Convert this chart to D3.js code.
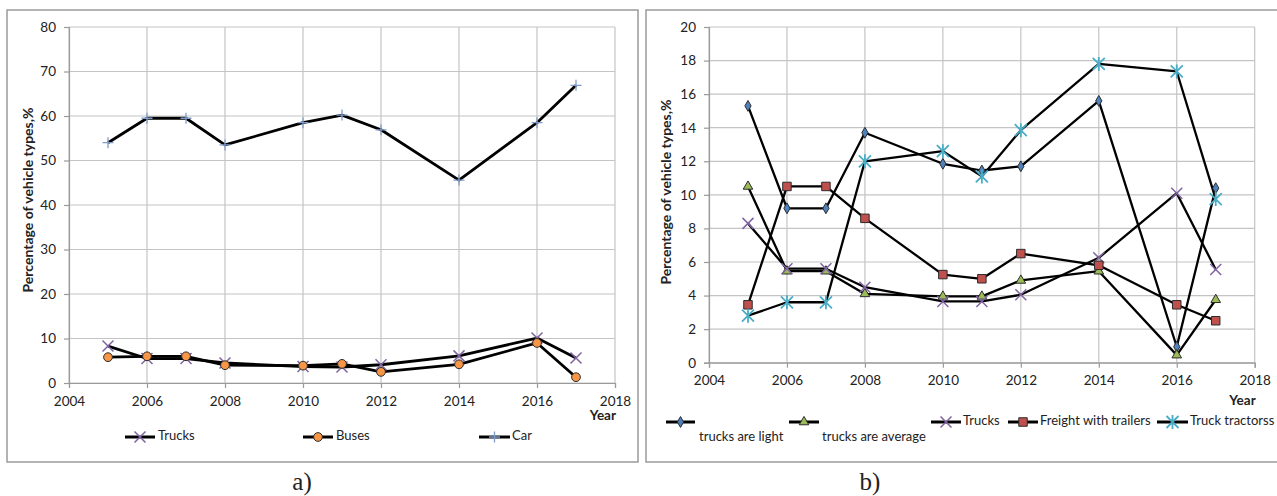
<!DOCTYPE html>
<html><head><meta charset="utf-8">
<script src="https://cdn.jsdelivr.net/npm/d3@7"></script>
<style>body{margin:0;background:#fff}svg{display:block}text{font-family:Lato,"Open Sans",sans-serif;fill:#222}</style>
</head><body><svg id="c" width="1277" height="496"></svg>
<script>
// ---- data ----
const years = [2005, 2006, 2007, 2008, 2010, 2011, 2012, 2014, 2016, 2017];
const xTicks = [2004, 2006, 2008, 2010, 2012, 2014, 2016, 2018];
// panel a
const trucksA = [8.3, 5.5, 5.5, 4.5, 3.7, 3.6, 4.1, 6.1, 10.1, 5.6];
const busesA  = [5.8, 6.0, 6.0, 4.0, 3.9, 4.3, 2.5, 4.2, 9.0, 1.3];
const carA    = [54.0, 59.5, 59.5, 53.5, 58.5, 60.2, 56.9, 45.6, 58.5, 66.9];
const yTicksA = [0, 10, 20, 30, 40, 50, 60, 70, 80];
// panel b
const lightB   = [15.3, 9.2, 9.2, 13.7, 11.85, 11.45, 11.7, 15.6, 0.95, 10.4];
const averageB = [10.5, 5.45, 5.45, 4.1, 3.95, 3.95, 4.9, 5.45, 0.45, 3.75];
const trucksB  = [8.3, 5.6, 5.6, 4.5, 3.65, 3.65, 4.05, 6.25, 10.1, 5.55];
const freightB = [3.45, 10.5, 10.5, 8.6, 5.25, 5.0, 6.5, 5.8, 3.45, 2.5];
const tractorB = [2.8, 3.6, 3.6, 12.0, 12.6, 11.1, 13.85, 17.8, 17.35, 9.75];
const yTicksB = [0, 2, 4, 6, 8, 10, 12, 14, 16, 18, 20];

const svg = d3.select("#c");

// marker painters
function marker(g, type, x, y, color) {
  const dark = "#2b2b2b";
  if (type === "plus") {
    const s = 5.5;
    g.append("path").attr("d", `M${x-s},${y}H${x+s}M${x},${y-s}V${y+s}`)
      .attr("stroke", color).attr("stroke-width", 1.3).attr("fill", "none");
  } else if (type === "x") {
    const s = 5.5;
    g.append("path").attr("d", `M${x-s},${y-s}L${x+s},${y+s}M${x-s},${y+s}L${x+s},${y-s}`)
      .attr("stroke", color).attr("stroke-width", 1.5).attr("fill", "none");
  } else if (type === "star") {
    const s = 6;
    g.append("path").attr("d", `M${x-s},${y-s}L${x+s},${y+s}M${x-s},${y+s}L${x+s},${y-s}M${x},${y-s-1}V${y+s+1}`)
      .attr("stroke", color).attr("stroke-width", 1.8).attr("fill", "none");
  } else {
    const map = {circle: [d3.symbolCircle, 60], diamond: [d3.symbolDiamond, 34],
                 triangle: [d3.symbolTriangle, 40], square: [d3.symbolSquare, 72]};
    const [t, size] = map[type];
    g.append("path").attr("d", d3.symbol(t, size)())
      .attr("transform", `translate(${x},${y})`)
      .attr("fill", color).attr("stroke", dark).attr("stroke-width", 1);
  }
}

function panel(cfg) {
  const g = svg.append("g");
  // frame
  g.append("rect").attr("x", cfg.frame[0]).attr("y", cfg.frame[1])
    .attr("width", cfg.frame[2]).attr("height", cfg.frame[3])
    .attr("fill", "none").attr("stroke", "#9a9a9a").attr("stroke-width", 1.5);

  const x = d3.scaleLinear().domain([2004, 2018]).range([cfg.left, cfg.right]);
  const y = d3.scaleLinear().domain([0, cfg.yMax]).range([cfg.bottom, cfg.top]);

  // grid
  const grid = g.append("g").attr("stroke", "#c4c4c4").attr("stroke-width", 1.2);
  cfg.yTicks.forEach(v => grid.append("line").attr("x1", cfg.left).attr("x2", cfg.right)
    .attr("y1", y(v)).attr("y2", y(v)));
  xTicks.forEach(v => grid.append("line").attr("x1", x(v)).attr("x2", x(v))
    .attr("y1", cfg.top).attr("y2", cfg.bottom));

  // axes
  const ax = g.append("g").attr("transform", `translate(0,${cfg.bottom})`)
    .call(d3.axisBottom(x).tickValues(xTicks).tickFormat(d3.format("d")).tickSize(5).tickPadding(8));
  const ay = g.append("g").attr("transform", `translate(${cfg.left},0)`)
    .call(d3.axisLeft(y).tickValues(cfg.yTicks).tickSize(5).tickPadding(8));
  [ax, ay].forEach(a => {
    a.select(".domain").attr("stroke", "#9a9a9a").attr("stroke-width", 1.2);
    a.selectAll(".tick line").attr("stroke", "#9a9a9a").attr("stroke-width", 1.2);
    a.selectAll("text").attr("font-size", 13.5).attr("fill", "#222")
      .style("font-family", "Lato, sans-serif");
  });
  ax.selectAll("text").attr("dy", "0.71em");

  // titles
  g.append("text").attr("transform", `translate(${cfg.yTitleX},${cfg.yTitleY}) rotate(-90)`)
    .attr("text-anchor", "middle").attr("font-size", 14).attr("font-weight", "bold")
    .text("Percentage of vehicle types,%");
  g.append("text").attr("x", cfg.right + 1).attr("y", cfg.yearY).attr("text-anchor", "end")
    .attr("font-size", 13.5).attr("font-weight", "bold").text("Year");

  // series
  const line = d3.line().x((d, i) => x(years[i])).y(d => y(d));
  cfg.series.forEach(s => {
    g.append("path").datum(s.values).attr("d", line).attr("fill", "none")
      .attr("stroke", "#000").attr("stroke-width", cfg.lw).attr("stroke-linejoin", "round");
  });
  cfg.series.forEach(s => {
    const mg = g.append("g");
    s.values.forEach((v, i) => marker(mg, s.marker, x(years[i]), y(v), s.color));
  });

  // legend
  cfg.series.forEach(s => {
    const L = s.legend;
    g.append("line").attr("x1", L.x0).attr("x2", L.x1).attr("y1", L.y).attr("y2", L.y)
      .attr("stroke", "#000").attr("stroke-width", 3);
    marker(g, s.marker, (L.x0 + L.x1) / 2, L.y, s.color);
    g.append("text").attr("x", L.tx).attr("y", L.ty).attr("font-size", 13)
      .attr("dominant-baseline", "middle").text(s.name);
  });

  g.append("text").attr("x", cfg.capX).attr("y", 490).attr("text-anchor", "middle")
    .style("font-family", "'Liberation Serif', 'Times New Roman', serif")
    .attr("font-size", 25).text(cfg.caption);
}

panel({
  frame: [7, 10, 631, 452], left: 69, right: 615, top: 27, bottom: 383, yMax: 80,
  yTicks: yTicksA, yTitleX: 33, yTitleY: 200, yearY: 420, lw: 2.8, capX: 302, caption: "a)",
  series: [
    {name: "Trucks", values: trucksA, marker: "x", color: "#8064a2",
     legend: {x0: 125, x1: 155, y: 437, tx: 158, ty: 437}},
    {name: "Buses", values: busesA, marker: "circle", color: "#f79646",
     legend: {x0: 303, x1: 333, y: 437, tx: 336, ty: 437}},
    {name: "Car", values: carA, marker: "plus", color: "#7f9cc9",
     legend: {x0: 479, x1: 510, y: 437, tx: 512, ty: 437}}
  ]
});

panel({
  frame: [646, 10, 640, 452], left: 709, right: 1254.7, top: 27, bottom: 362.7, yMax: 20,
  yTicks: yTicksB, yTitleX: 671, yTitleY: 192, yearY: 405, lw: 2.3, capX: 870, caption: "b)",
  series: [
    {name: "trucks are light", values: lightB, marker: "diamond", color: "#4f81bd",
     legend: {x0: 666, x1: 695, y: 422, tx: 699, ty: 438}},
    {name: "trucks are average", values: averageB, marker: "triangle", color: "#9bbb59",
     legend: {x0: 789, x1: 819, y: 422, tx: 822, ty: 438}},
    {name: "Trucks", values: trucksB, marker: "x", color: "#8064a2",
     legend: {x0: 931, x1: 961, y: 422, tx: 963, ty: 422}},
    {name: "Freight with trailers", values: freightB, marker: "square", color: "#c0504d",
     legend: {x0: 1008, x1: 1038, y: 422, tx: 1040, ty: 422}},
    {name: "Truck tractorss", values: tractorB, marker: "star", color: "#4bacc6",
     legend: {x0: 1157, x1: 1188, y: 422, tx: 1190, ty: 422}}
  ]
});
</script></body></html>
